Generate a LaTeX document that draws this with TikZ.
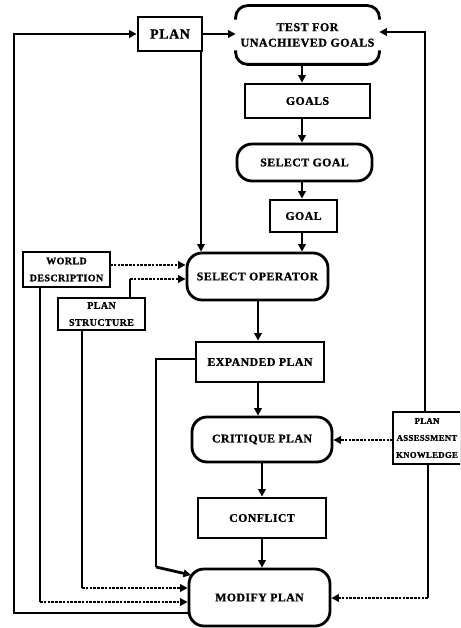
\documentclass[tikz,border=0pt]{standalone}
\usepackage{fontspec}
\setmainfont{Liberation Serif}[LetterSpace=4, BoldFeatures={FakeBold=1.2}]
\usetikzlibrary{arrows.meta}
\begin{document}
\begin{tikzpicture}[x=1pt,y=-1pt,
  lw/.style={line width=2.8pt},
  box/.style={draw, lw, inner sep=0pt, align=center, font=\bfseries\fontsize{11.8}{15}\selectfont},
  rbox/.style={box, rounded corners=15pt},
  small/.style={font=\bfseries\fontsize{10}{17}\selectfont},
  arr/.style={lw, -{Triangle[length=7.5pt,width=7.5pt]}},
  dotarr/.style={arr, dash pattern=on 2.6pt off 1.2pt}]
\useasboundingbox (0,0) rectangle (460,628);
\clip (0,0) rectangle (460,628);
\fill[white] (0,0) rectangle (460,628);
% nodes
\node[box, minimum width=64pt, minimum height=34pt, font=\bfseries\fontsize{14}{18}\selectfont] (plan) at (170,34) {PLAN};
\node[box, draw=none, minimum width=141pt, minimum height=56pt, font=\bfseries\fontsize{12}{15.5}\selectfont] (test) at (307.5,35) {TEST FOR\\UNACHIEVED GOALS};
\draw[lw, rounded corners=12pt] ([yshift=-14pt]test.north west) -- (test.north west) -- (test.north east) -- ([yshift=-14pt]test.north east);
\draw[lw, rounded corners=12pt] ([yshift=14pt]test.south west) -- (test.south west) -- (test.south east) -- ([yshift=14pt]test.south east);
\node[box, minimum width=125pt, minimum height=34pt] (goals) at (307.5,101) {GOALS};
\node[rbox, minimum width=135pt, minimum height=37pt] (selgoal) at (304.5,162.5) {SELECT GOAL};
\node[box, minimum width=67pt, minimum height=32pt] (goal) at (303.5,216) {GOAL};
\node[rbox, minimum width=141pt, minimum height=47pt] (selop) at (257.5,276.5) {SELECT OPERATOR};
\node[box, small, minimum width=87pt, minimum height=35pt] (world) at (66.5,269.5) {WORLD\\DESCRIPTION};
\node[box, small, fill=white, minimum width=87pt, minimum height=32pt] (pstruct) at (101.5,314) {PLAN\\STRUCTURE};
\node[box, minimum width=128pt, minimum height=40pt] (expanded) at (260,362) {EXPANDED PLAN};
\node[rbox, minimum width=140pt, minimum height=45pt] (critique) at (262,439.5) {CRITIQUE PLAN};
\node[box, minimum width=128pt, minimum height=40pt] (conflict) at (262,518) {CONFLICT};
\node[rbox, minimum width=141pt, minimum height=57pt] (modify) at (259.5,597.5) {MODIFY PLAN};
\node[box, font=\bfseries\fontsize{8.7}{17}\selectfont, minimum width=68pt, minimum height=52pt] (pak) at (427,438) {PLAN\\ASSESSMENT\\KNOWLEDGE};
% helper coordinates
\coordinate (xa) at (302,0);
\coordinate (xb) at (201,0);
\coordinate (xc) at (258,0);
\coordinate (xd) at (262,0);
\coordinate (xw) at (40,0);
\coordinate (xs) at (82,0);
\coordinate (xp) at (130,0);
\coordinate (xr) at (425,0);
\coordinate (xk) at (428,0);
\coordinate (xl) at (14,0);
% main column
\draw[arr] (test.south -| xa) -- (goals.north -| xa);
\draw[arr] (goals.south -| xa) -- (selgoal.north -| xa);
\draw[arr] (selgoal.south -| xa) -- (goal.north -| xa);
\draw[arr] (goal.south -| xa) -- (selop.north -| xa);
\draw[arr] (plan.east) -- (test.west |- plan.east);
\draw[arr] (plan.south -| xb) -- (selop.north -| xb);
\draw[arr] (selop.south -| xc) -- (expanded.north -| xc);
\draw[arr] (expanded.south -| xc) -- (critique.north -| xc);
\draw[arr] (critique.south -| xd) -- (conflict.north -| xd);
\draw[arr] (conflict.south -| xd) -- (modify.north -| xd);
% world description and plan structure
\coordinate (w1) at (110,265);
\draw[dotarr] (w1) -- (selop.west |- w1);
\coordinate (p1) at (130,279);
\draw[lw] (pstruct.north -| xp) -- (p1);
\draw[dotarr] (p1) -- (selop.west |- p1);
\coordinate (w2) at (40,602);
\draw[lw] (world.south -| xw) -- (w2);
\draw[dotarr] (w2) -- (modify.west |- w2);
\coordinate (s2) at (82,588);
\draw[lw] (pstruct.south -| xs) -- (s2);
\draw[dotarr] (s2) -- (modify.west |- s2);
% expanded plan to modify
\coordinate (e1) at (156,359);
\coordinate (e2) at (156,567);
\coordinate (m1) at (191,575);
\draw[lw] (expanded.west |- e1) -- (e1) -- (e2);
\draw[arr] (e2) -- (m1);
% modify back to plan
\coordinate (l1) at (14,613);
\draw[arr] (modify.west |- l1) -- (l1) -- (xl |- plan.west) -- (plan.west);
% plan assessment knowledge
\coordinate (r1) at (425,32);
\draw[arr] (pak.north -| xr) -- (r1) -- (test.east |- r1);
\coordinate (k1) at (393,440);
\draw[dotarr] (k1) -- (critique.east |- k1);
\coordinate (k2) at (428,598);
\draw[lw] (pak.south -| xk) -- (k2);
\draw[dotarr] (k2) -- (modify.east |- k2);
\end{tikzpicture}
\end{document}
